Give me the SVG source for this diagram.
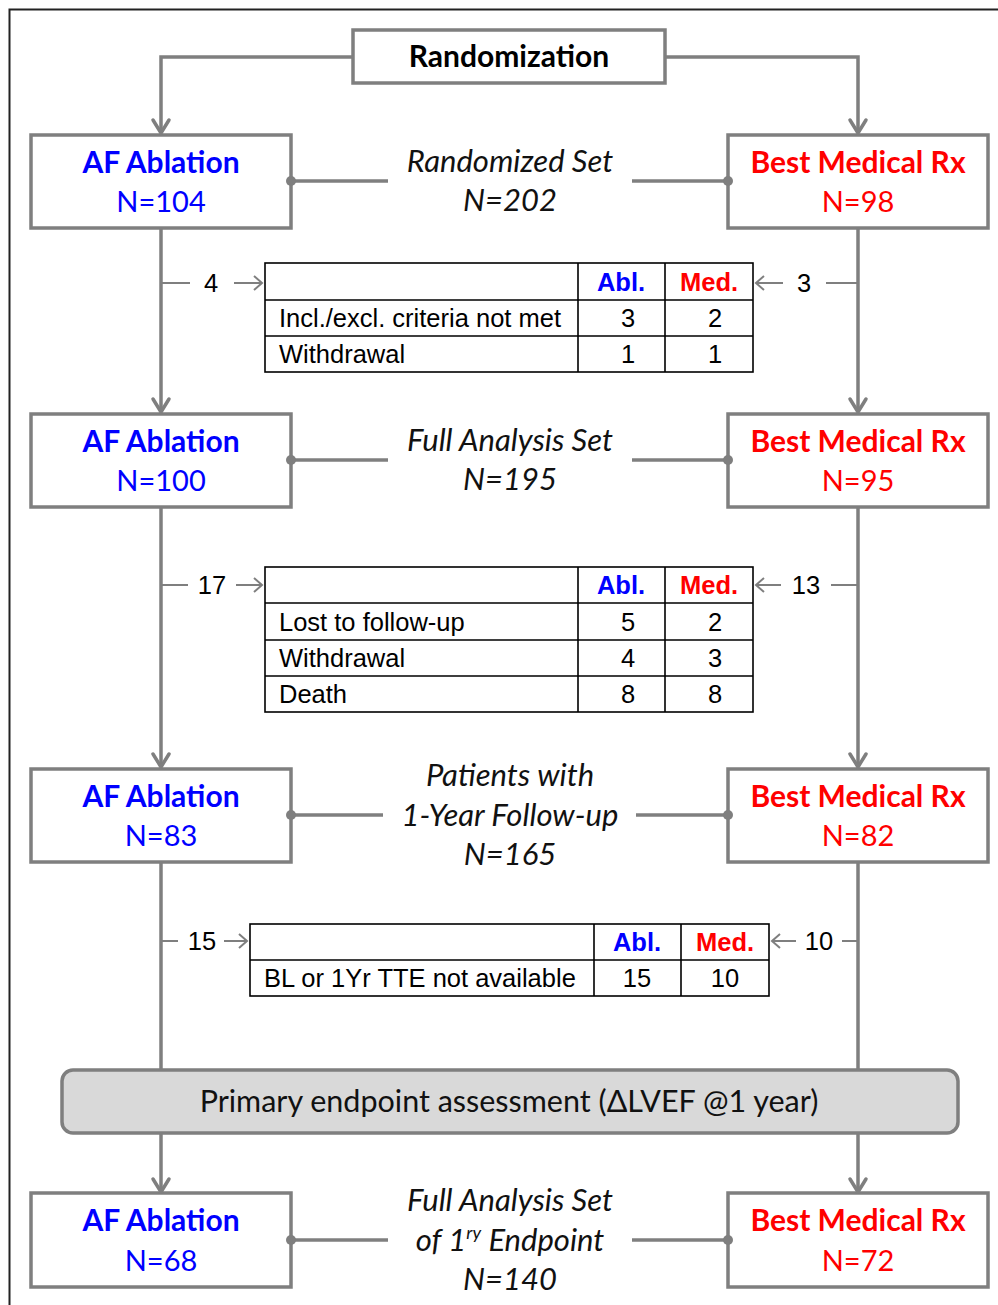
<svg xmlns="http://www.w3.org/2000/svg" width="998" height="1305" viewBox="0 0 998 1305">
<style>
.box{fill:#fff;stroke:#7f7f7f;stroke-width:3.5}
.conn{fill:none;stroke:#7f7f7f;stroke-width:3.5}
.thin{fill:none;stroke:#7f7f7f;stroke-width:2}
.tbl{fill:none;stroke:#000;stroke-width:1.6}
.cal{font-family:Lato,"Open Sans","Noto Sans",sans-serif;text-anchor:middle}
.b{font-weight:bold;font-size:30px}
.n{font-size:29px}
.it{font-style:italic;font-size:31px;fill:#111}
.ar{font-family:"Liberation Sans",Arial,sans-serif;font-size:25.5px;fill:#000}
.mid{text-anchor:middle}
.hb{font-weight:bold}
.blue{fill:#0000ff}
.red{fill:#ff0000}
</style>
<defs>
<marker id="arr" viewBox="-16 -12 20 24" markerWidth="20" markerHeight="24" refX="0" refY="0" orient="auto" markerUnits="userSpaceOnUse">
<path d="M-13,-8 L0,0 L-13,8" fill="none" stroke="#7f7f7f" stroke-width="3.5" stroke-linejoin="round" stroke-linecap="round"/>
</marker>
<marker id="sarr" viewBox="-12 -10 14 20" markerWidth="14" markerHeight="20" refX="0" refY="0" orient="auto" markerUnits="userSpaceOnUse">
<path d="M-8,-7 L0,0 L-8,7" fill="none" stroke="#7f7f7f" stroke-width="2"/>
</marker>
<marker id="dot" viewBox="-6 -6 12 12" markerWidth="12" markerHeight="12" refX="0" refY="0" markerUnits="userSpaceOnUse">
<circle cx="0" cy="0" r="5" fill="#7f7f7f"/>
</marker>
</defs>
<rect x="0" y="0" width="998" height="1305" fill="#fff"/>
<rect x="9.5" y="9.5" width="1000" height="1310" fill="none" stroke="#222" stroke-width="2"/>

<g id="randomization">
<rect class="box" x="353" y="30" width="312" height="53"/>
<text class="cal b" x="509" y="67">Randomization</text>
</g>

<g id="abl1">
<rect class="box" x="31" y="135" width="260" height="93"/>
<text class="cal b blue" x="161" y="173">AF Ablation</text>
<text class="cal n blue" x="161" y="212">N=104</text>
</g>
<g id="med1">
<rect class="box" x="728" y="135" width="260" height="93"/>
<text class="cal b red" x="858" y="173">Best Medical Rx</text>
<text class="cal n red" x="858" y="212">N=98</text>
</g>
<g id="set1">
<text class="cal it" x="510" y="172">Randomized Set</text>
<text class="cal it" x="510" y="211">N=202</text>
</g>

<g id="table1">
<rect class="tbl" x="265" y="263" width="488" height="109"/>
<path class="tbl" d="M578,263 V372 M665,263 V372 M265,300 H753 M265,336 H753"/>
<text class="ar mid hb blue" x="621" y="291">Abl.</text>
<text class="ar mid hb red" x="709" y="291">Med.</text>
<text class="ar" x="279" y="327">Incl./excl. criteria not met</text>
<text class="ar mid" x="628" y="327">3</text>
<text class="ar mid" x="715" y="327">2</text>
<text class="ar" x="279" y="363">Withdrawal</text>
<text class="ar mid" x="628" y="363">1</text>
<text class="ar mid" x="715" y="363">1</text>
</g>

<g id="abl2">
<rect class="box" x="31" y="414" width="260" height="93"/>
<text class="cal b blue" x="161" y="452">AF Ablation</text>
<text class="cal n blue" x="161" y="491">N=100</text>
</g>
<g id="med2">
<rect class="box" x="728" y="414" width="260" height="93"/>
<text class="cal b red" x="858" y="452">Best Medical Rx</text>
<text class="cal n red" x="858" y="491">N=95</text>
</g>
<g id="set2">
<text class="cal it" x="510" y="451">Full Analysis Set</text>
<text class="cal it" x="510" y="490">N=195</text>
</g>

<g id="table2">
<rect class="tbl" x="265" y="567" width="488" height="145"/>
<path class="tbl" d="M578,567 V712 M665,567 V712 M265,603 H753 M265,640 H753 M265,676 H753"/>
<text class="ar mid hb blue" x="621" y="594">Abl.</text>
<text class="ar mid hb red" x="709" y="594">Med.</text>
<text class="ar" x="279" y="631">Lost to follow-up</text>
<text class="ar mid" x="628" y="631">5</text>
<text class="ar mid" x="715" y="631">2</text>
<text class="ar" x="279" y="667">Withdrawal</text>
<text class="ar mid" x="628" y="667">4</text>
<text class="ar mid" x="715" y="667">3</text>
<text class="ar" x="279" y="703">Death</text>
<text class="ar mid" x="628" y="703">8</text>
<text class="ar mid" x="715" y="703">8</text>
</g>

<g id="abl3">
<rect class="box" x="31" y="769" width="260" height="93"/>
<text class="cal b blue" x="161" y="807">AF Ablation</text>
<text class="cal n blue" x="161" y="846">N=83</text>
</g>
<g id="med3">
<rect class="box" x="728" y="769" width="260" height="93"/>
<text class="cal b red" x="858" y="807">Best Medical Rx</text>
<text class="cal n red" x="858" y="846">N=82</text>
</g>
<g id="set3">
<text class="cal it" x="510" y="786">Patients with</text>
<text class="cal it" x="510" y="826">1-Year Follow-up</text>
<text class="cal it" x="510" y="865">N=165</text>
</g>

<g id="table3">
<rect class="tbl" x="250" y="924" width="519" height="72"/>
<path class="tbl" d="M594,924 V996 M681,924 V996 M250,960 H769"/>
<text class="ar mid hb blue" x="637" y="951">Abl.</text>
<text class="ar mid hb red" x="725" y="951">Med.</text>
<text class="ar" x="264" y="987">BL or 1Yr TTE not available</text>
<text class="ar mid" x="637" y="987">15</text>
<text class="ar mid" x="725" y="987">10</text>
</g>

<g id="primary">
<rect x="62" y="1070" width="896" height="63" rx="11" fill="#d9d9d9" stroke="#7f7f7f" stroke-width="3.5"/>
<text class="cal" x="509" y="1112" font-size="30.5" fill="#111">Primary endpoint assessment (ΔLVEF @1 year)</text>
</g>

<g id="abl4">
<rect class="box" x="31" y="1193" width="260" height="94"/>
<text class="cal b blue" x="161" y="1231">AF Ablation</text>
<text class="cal n blue" x="161" y="1271">N=68</text>
</g>
<g id="med4">
<rect class="box" x="728" y="1193" width="260" height="94"/>
<text class="cal b red" x="858" y="1231">Best Medical Rx</text>
<text class="cal n red" x="858" y="1271">N=72</text>
</g>
<g id="set4">
<text class="cal it" x="510" y="1211">Full Analysis Set</text>
<text class="cal it" x="510" y="1251">of 1<tspan font-size="18" dy="-12">ry</tspan><tspan dy="12"> Endpoint</tspan></text>
<text class="cal it" x="510" y="1290">N=140</text>
</g>

<g id="connectors">
<path class="conn" d="M353,57 H161 V133" marker-end="url(#arr)"/>
<path class="conn" d="M665,57 H858 V133" marker-end="url(#arr)"/>
<path class="conn" d="M161,229 V412" marker-end="url(#arr)"/>
<path class="conn" d="M858,229 V412" marker-end="url(#arr)"/>
<path class="conn" d="M161,508 V767" marker-end="url(#arr)"/>
<path class="conn" d="M858,508 V767" marker-end="url(#arr)"/>
<path class="conn" d="M161,863 V1069"/>
<path class="conn" d="M858,863 V1069"/>
<path class="conn" d="M161,1134 V1192" marker-end="url(#arr)"/>
<path class="conn" d="M858,1134 V1192" marker-end="url(#arr)"/>
<path class="conn" d="M291,181 H388" marker-start="url(#dot)"/>
<path class="conn" d="M728,181 H632" marker-start="url(#dot)"/>
<path class="conn" d="M291,460 H388" marker-start="url(#dot)"/>
<path class="conn" d="M728,460 H632" marker-start="url(#dot)"/>
<path class="conn" d="M291,815 H383" marker-start="url(#dot)"/>
<path class="conn" d="M728,815 H636" marker-start="url(#dot)"/>
<path class="conn" d="M291,1240 H388" marker-start="url(#dot)"/>
<path class="conn" d="M728,1240 H632" marker-start="url(#dot)"/>
<path class="thin" d="M161,283 H190"/>
<path class="thin" d="M234,283 H262" marker-end="url(#sarr)"/>
<path class="thin" d="M783,283 H756" marker-end="url(#sarr)"/>
<path class="thin" d="M826,283 H858"/>
<path class="thin" d="M161,585 H188"/>
<path class="thin" d="M236,585 H262" marker-end="url(#sarr)"/>
<path class="thin" d="M781,585 H756" marker-end="url(#sarr)"/>
<path class="thin" d="M831,585 H858"/>
<path class="thin" d="M161,941 H178"/>
<path class="thin" d="M224,941 H247" marker-end="url(#sarr)"/>
<path class="thin" d="M796,941 H772" marker-end="url(#sarr)"/>
<path class="thin" d="M842,941 H858"/>
<text class="ar mid" x="211" y="292">4</text>
<text class="ar mid" x="804" y="292">3</text>
<text class="ar mid" x="212" y="594">17</text>
<text class="ar mid" x="806" y="594">13</text>
<text class="ar mid" x="202" y="950">15</text>
<text class="ar mid" x="819" y="950">10</text>
</g>
</svg>
